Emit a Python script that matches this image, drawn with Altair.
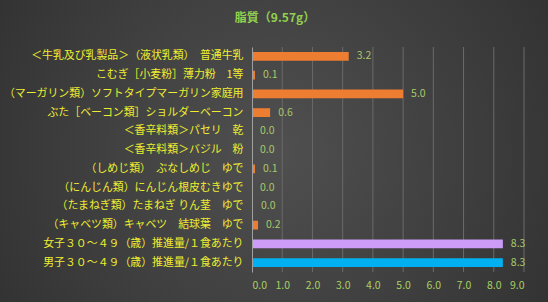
import altair as alt
import pandas as pd

categories = [
    "＜牛乳及び乳製品＞（液状乳類）　普通牛乳",
    "こむぎ［小麦粉］薄力粉　1等",
    "（マーガリン類）ソフトタイプマーガリン家庭用",
    "ぶた［ベーコン類］ショルダーベーコン",
    "＜香辛料類＞パセリ　乾",
    "＜香辛料類＞バジル　粉",
    "（しめじ類）　ぶなしめじ　ゆで",
    "（にんじん類）にんじん根皮むきゆで",
    "（たまねぎ類）たまねぎ りん茎　ゆで",
    "（キャベツ類）キャベツ　結球葉　ゆで",
    "女子３０～４９（歳）推進量/１食あたり",
    "男子３０～４９（歳）推進量/１食あたり",
]
values = [3.2, 0.1, 5.0, 0.6, 0.0, 0.0, 0.1, 0.0, 0.03, 0.2, 8.3, 8.3]
kinds = ["food"] * 10 + ["female", "male"]
x_ticks = [0, 1, 2, 3, 4, 5, 6, 7, 8, 9]
title_text = ["脂質（9.57g）"]

df = pd.DataFrame({"cat": categories, "val": values, "kind": kinds})
grid_df = pd.DataFrame({"t": x_ticks[1:]})

FONT = "Noto Sans CJK JP"

bg = alt.Chart(pd.DataFrame({"a": [0]})).mark_rect(
    clip=False,
    fill=alt.Gradient(
        gradient="radial",
        stops=[alt.GradientStop(color="#505050", offset=0),
               alt.GradientStop(color="#2a2a2a", offset=1)],
        x1=0.5, y1=0.5, r1=0, x2=0.5, y2=0.5, r2=0.75,
    ),
).encode(x=alt.value(-252), x2=alt.value(296), y=alt.value(-47), y2=alt.value(255))

x_scale = alt.Scale(domain=[x_ticks[0], x_ticks[-1]], nice=False)
x_axis = alt.Axis(title=None, tickCount=len(x_ticks) - 1, format=".1f",
                  labelColor="#a8d060", labelFont=FONT, labelFontSize=10.5,
                  labelPadding=8, ticks=False, domain=False, labelOverlap=False,
                  labelSeparation=0, grid=False, zindex=1)

grid = alt.Chart(grid_df).mark_rule(color="#6a6a6a", strokeWidth=1).encode(
    x=alt.X("t:Q", scale=x_scale, axis=x_axis),
    y=alt.value(0), y2=alt.value(225),
)

title = alt.Chart(pd.DataFrame({"t": title_text})).mark_text(
    align="center", baseline="middle", font=FONT, fontSize=12, color="#92d050",
    fontWeight="bold",
).encode(text="t:N", x=alt.value(23), y=alt.value(-29))

y_enc = alt.Y("cat:N", sort=categories,
              scale=alt.Scale(paddingInner=0.53, paddingOuter=0.265),
              axis=alt.Axis(title=None, labelColor="#eeee30", labelFont=FONT,
                            labelFontSize=10.9, labelPadding=9, ticks=False,
                            domain=True, domainColor="#a0a0a0", grid=False,
                            labelLimit=300, zindex=1))
x_enc = alt.X("val:Q", scale=x_scale, axis=x_axis)

bars = alt.Chart(df).mark_bar().encode(
    y=y_enc, x=x_enc,
    color=alt.Color("kind:N",
                    scale=alt.Scale(domain=["food", "female", "male"],
                                    range=["#ed7d31", "#cc9cf8", "#00b0f0"]),
                    legend=None),
)

labels = alt.Chart(df).mark_text(align="left", baseline="middle", dx=8,
                                 font=FONT, fontSize=10.5, color="#a8c868").encode(
    y=alt.Y("cat:N", sort=categories),
    x="val:Q",
    text=alt.Text("val:Q", format=".1f"),
)

chart = alt.layer(bg, grid, bars, labels, title).properties(
    width=272, height=225,
    autosize=alt.AutoSizeParams(type="none"),
    padding={"left": 252, "top": 47, "right": 24, "bottom": 30},
    background="#333333",
).configure_view(stroke=None).configure_axis(labelOverlap=False)

chart.save("out.html", embed_options={"renderer": "svg", "actions": False})
